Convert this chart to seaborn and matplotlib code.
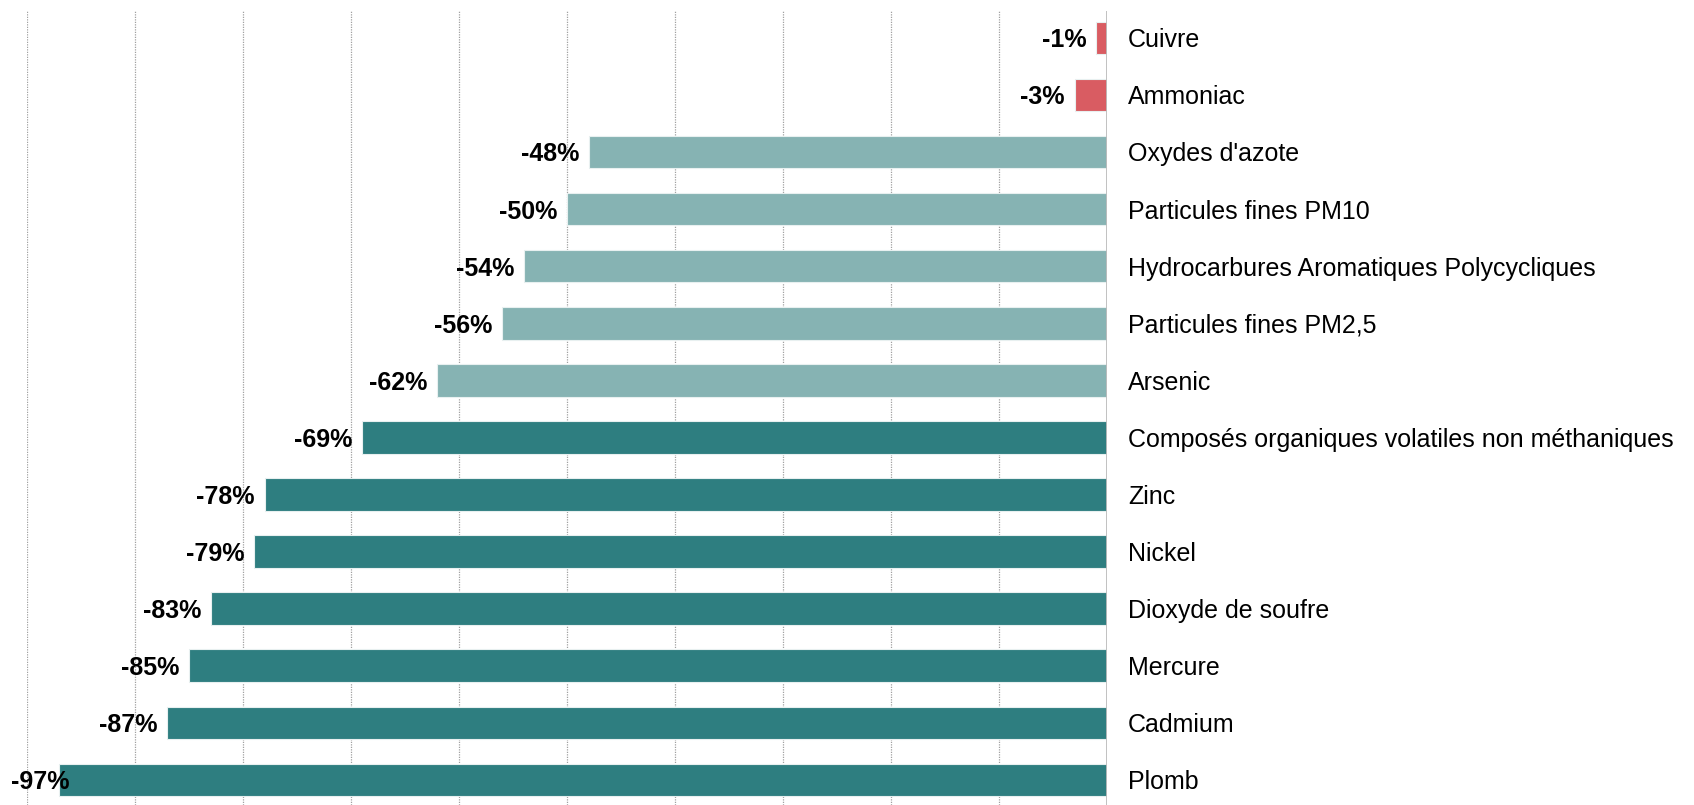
import matplotlib
matplotlib.use("Agg")
import matplotlib.pyplot as plt
import matplotlib.transforms as mtransforms
import seaborn as sns
import pandas as pd

categories = ["Cuivre", "Ammoniac", "Oxydes d'azote", "Particules fines PM10",
              "Hydrocarbures Aromatiques Polycycliques", "Particules fines PM2,5",
              "Arsenic", "Composés organiques volatiles non méthaniques", "Zinc",
              "Nickel", "Dioxyde de soufre", "Mercure", "Cadmium", "Plomb"]
values = [-1, -3, -48, -50, -54, -56, -62, -69, -78, -79, -83, -85, -87, -97]
groups = ["hausse", "hausse", "moyen", "moyen", "moyen", "moyen", "moyen",
          "fort", "fort", "fort", "fort", "fort", "fort", "fort"]
palette = {"hausse": "#D95C62", "moyen": "#86B3B3", "fort": "#2E7E80"}

df = pd.DataFrame({"cat": categories, "val": values, "grp": groups})

sns.set_style("white")
plt.rcParams['font.family'] = ['Liberation Sans', 'DejaVu Sans']

fig = plt.figure(figsize=(16.94, 8.05), dpi=100)
ax = fig.add_axes([27/1694, 0.0, 1080/1694, 1 - 11/805])

sns.barplot(data=df, x="val", y="cat", hue="grp", palette=palette, dodge=False,
            width=0.57, legend=False, ax=ax, orient="h", saturation=1,
            edgecolor="#e8f0f0", linewidth=0.8)

ax.set_xlim(-100, 0)
ax.set_ylim(13.44, -0.47)
ax.set_xticks(range(-100, 0, 10))
ax.xaxis.grid(True, linestyle=(0, (1, 1)), color="#a0a0a0", linewidth=0.9)
ax.set_axisbelow(True)
ax.axvline(0, color="#bcbcbc", linewidth=1.3, zorder=5)
for s in ax.spines.values():
    s.set_visible(False)
ax.tick_params(axis="x", bottom=False, labelbottom=False)
ax.yaxis.tick_right()
ax.tick_params(axis="y", length=0, pad=15, labelsize=18, labelcolor="black")
ax.set_xlabel("")
ax.set_ylabel("")

edge_tr = mtransforms.blended_transform_factory(fig.transFigure, ax.transData)
for i, v in enumerate(values):
    if v <= -95:
        # not enough room at the left edge: label sits over the bar start
        ax.annotate(f"{v}%", xy=(11/1694, i), xycoords=edge_tr,
                    ha="left", va="center_baseline", fontsize=18,
                    fontweight="bold", color="black", zorder=6)
    else:
        ax.annotate(f"{v}%", xy=(v, i), xytext=(-7, 0), textcoords="offset points",
                    ha="right", va="center_baseline", fontsize=18, fontweight="bold",
                    color="black", zorder=6)

fig.savefig("out.png", dpi=100)
